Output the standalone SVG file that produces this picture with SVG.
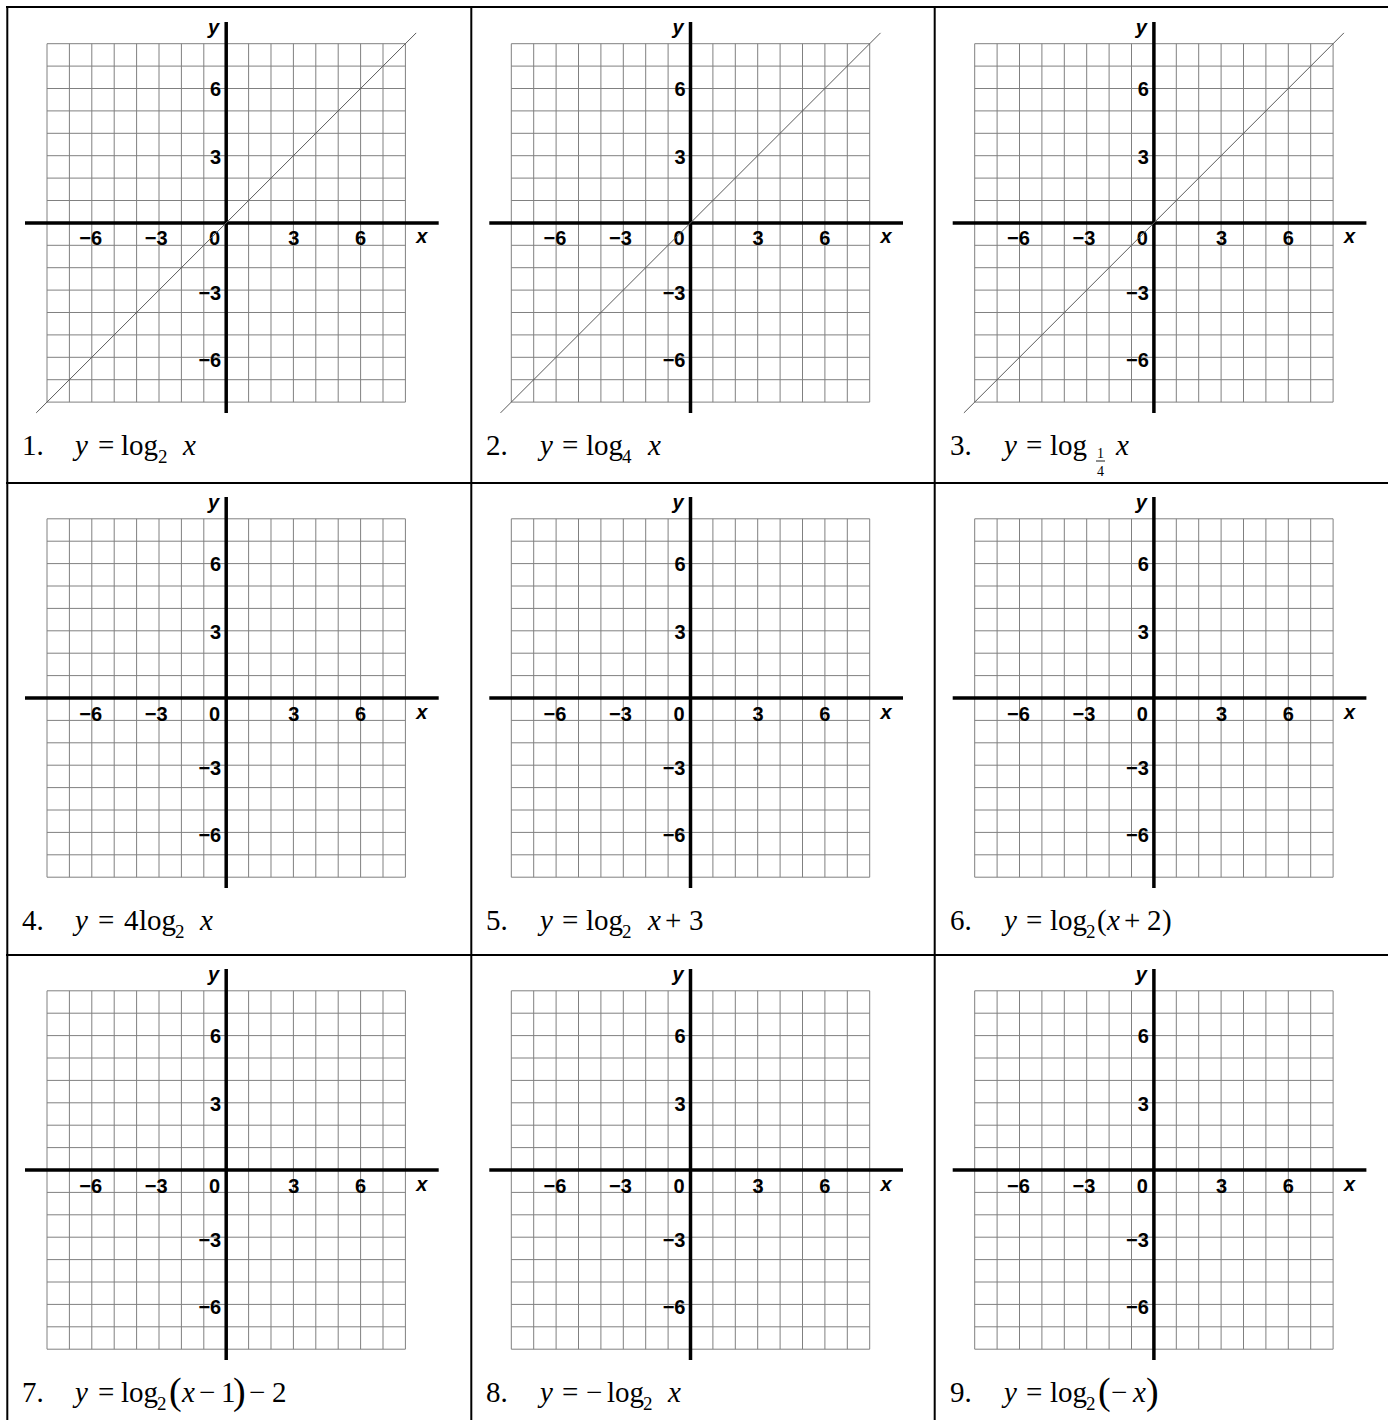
<svg xmlns="http://www.w3.org/2000/svg" xmlns:xlink="http://www.w3.org/1999/xlink" width="1388" height="1420" viewBox="0 0 1388 1420">
<style>
.grid{stroke:#808080;stroke-width:1;fill:none}
.axis{stroke:#000;stroke-width:3.5;fill:none}
.diag{stroke:#5a5a5a;stroke-width:1;fill:none}
.border{stroke:#000;stroke-width:2;fill:none}
.lab{font-family:"Liberation Sans",Arial,sans-serif;font-weight:bold;font-size:20px;fill:#000}
.ax{font-family:"Liberation Sans",Arial,sans-serif;font-weight:bold;font-style:italic;font-size:20px;fill:#000}
.f{font-family:"Liberation Serif","Times New Roman",serif;font-size:29px;fill:#000}
.i{font-style:italic}
.sub{font-size:19px}
.big{font-size:38px}
.frac{font-family:"Liberation Serif","Times New Roman",serif;font-size:14px;fill:#000;text-anchor:middle}
</style>
<defs>
<g id="plane">
<path class="grid" d="M-179.2 -179.2V179.2M-156.8 -179.2V179.2M-134.4 -179.2V179.2M-112 -179.2V179.2M-89.6 -179.2V179.2M-67.2 -179.2V179.2M-44.8 -179.2V179.2M-22.4 -179.2V179.2M0 -179.2V179.2M22.4 -179.2V179.2M44.8 -179.2V179.2M67.2 -179.2V179.2M89.6 -179.2V179.2M112 -179.2V179.2M134.4 -179.2V179.2M156.8 -179.2V179.2M179.2 -179.2V179.2M-179.2 -179.2H179.2M-179.2 -156.8H179.2M-179.2 -134.4H179.2M-179.2 -112H179.2M-179.2 -89.6H179.2M-179.2 -67.2H179.2M-179.2 -44.8H179.2M-179.2 -22.4H179.2M-179.2 0H179.2M-179.2 22.4H179.2M-179.2 44.8H179.2M-179.2 67.2H179.2M-179.2 89.6H179.2M-179.2 112H179.2M-179.2 134.4H179.2M-179.2 156.8H179.2M-179.2 179.2H179.2"/>
<line class="axis" x1="-201.2" y1="0" x2="212.5" y2="0"/>
<line class="axis" x1="0" y1="-201" x2="0" y2="190"/>
<g class="lab">
<text x="-135.5" y="22.5" text-anchor="middle">−6</text>
<text x="-70" y="22.5" text-anchor="middle">−3</text>
<text x="-6" y="22.5" text-anchor="end">0</text>
<text x="67.6" y="22.5" text-anchor="middle">3</text>
<text x="134.4" y="22.5" text-anchor="middle">6</text>
<text x="-5" y="-127" text-anchor="end">6</text>
<text x="-5" y="-58.8" text-anchor="end">3</text>
<text x="-5" y="77.3" text-anchor="end">−3</text>
<text x="-5" y="143.8" text-anchor="end">−6</text>
</g>
<text class="ax" x="190" y="20.5">x</text>
<text class="ax" x="-7" y="-189" text-anchor="end">y</text>
</g>
</defs>
<rect width="1388" height="1420" fill="#fff"/>
<g id="table">
<path class="border" d="M7.3 6V1420M471.3 6V1420M934.7 6V1420M6 7H1388M6 483H1388M6 955H1388"/>
</g>
<g id="panel1">
<g transform="translate(226.2,222.9)"><use xlink:href="#plane"/><line class="diag" x1="-190" y1="190" x2="190" y2="-190"/></g>
<text class="f" y="455"><tspan x="22">1.</tspan><tspan x="75" class="i">y</tspan><tspan x="98">=</tspan><tspan x="121">log</tspan><tspan x="158" dy="8" class="sub">2</tspan><tspan x="183" dy="-8" class="i">x</tspan></text>
</g>
<g id="panel2">
<g transform="translate(690.5,222.9)"><use xlink:href="#plane"/><line class="diag" x1="-190" y1="190" x2="190" y2="-190"/></g>
<text class="f" y="455"><tspan x="486">2.</tspan><tspan x="540" class="i">y</tspan><tspan x="562">=</tspan><tspan x="586">log</tspan><tspan x="622" dy="8" class="sub">4</tspan><tspan x="648" dy="-8" class="i">x</tspan></text>
</g>
<g id="panel3">
<g transform="translate(1153.9,222.9)"><use xlink:href="#plane"/><line class="diag" x1="-190" y1="190" x2="190" y2="-190"/></g>
<text class="f" y="455"><tspan x="950">3.</tspan><tspan x="1004" class="i">y</tspan><tspan x="1026">=</tspan><tspan x="1050">log</tspan><tspan x="1116" class="i">x</tspan></text>
<text class="frac" x="1100.5" y="458">1</text>
<line x1="1096" y1="461" x2="1105" y2="461" stroke="#000" stroke-width="0.9"/>
<text class="frac" x="1100.5" y="475.5">4</text>
</g>
<g id="panel4">
<g transform="translate(226.2,698)"><use xlink:href="#plane"/></g>
<text class="f" y="930"><tspan x="22">4.</tspan><tspan x="75" class="i">y</tspan><tspan x="98">=</tspan><tspan x="124">4</tspan><tspan x="139">log</tspan><tspan x="175" dy="8" class="sub">2</tspan><tspan x="200" dy="-8" class="i">x</tspan></text>
</g>
<g id="panel5">
<g transform="translate(690.5,698)"><use xlink:href="#plane"/></g>
<text class="f" y="930"><tspan x="486">5.</tspan><tspan x="540" class="i">y</tspan><tspan x="562">=</tspan><tspan x="586">log</tspan><tspan x="622" dy="8" class="sub">2</tspan><tspan x="648" dy="-8" class="i">x</tspan><tspan x="665">+</tspan><tspan x="689">3</tspan></text>
</g>
<g id="panel6">
<g transform="translate(1153.9,698)"><use xlink:href="#plane"/></g>
<text class="f" y="930"><tspan x="950">6.</tspan><tspan x="1004" class="i">y</tspan><tspan x="1026">=</tspan><tspan x="1050">log</tspan><tspan x="1086" dy="8" class="sub">2</tspan><tspan x="1097" dy="-8">(</tspan><tspan x="1107" class="i">x</tspan><tspan x="1124">+</tspan><tspan x="1147">2</tspan><tspan x="1162">)</tspan></text>
</g>
<g id="panel7">
<g transform="translate(226.2,1170)"><use xlink:href="#plane"/></g>
<text class="f" y="1402"><tspan x="22">7.</tspan><tspan x="75" class="i">y</tspan><tspan x="98">=</tspan><tspan x="121">log</tspan><tspan x="157" dy="8" class="sub">2</tspan><tspan x="169" dy="-6" class="big">(</tspan><tspan x="182" dy="-2" class="i">x</tspan><tspan x="199">−</tspan><tspan x="221">1</tspan><tspan x="233" dy="2" class="big">)</tspan><tspan x="249" dy="-2">−</tspan><tspan x="272">2</tspan></text>
</g>
<g id="panel8">
<g transform="translate(690.5,1170)"><use xlink:href="#plane"/></g>
<text class="f" y="1402"><tspan x="486">8.</tspan><tspan x="540" class="i">y</tspan><tspan x="562">=</tspan><tspan x="586">−</tspan><tspan x="607">log</tspan><tspan x="643" dy="8" class="sub">2</tspan><tspan x="668" dy="-8" class="i">x</tspan></text>
</g>
<g id="panel9">
<g transform="translate(1153.9,1170)"><use xlink:href="#plane"/></g>
<text class="f" y="1402"><tspan x="950">9.</tspan><tspan x="1004" class="i">y</tspan><tspan x="1026">=</tspan><tspan x="1050">log</tspan><tspan x="1086" dy="8" class="sub">2</tspan><tspan x="1098" dy="-6" class="big">(</tspan><tspan x="1111" dy="-2">−</tspan><tspan x="1133" class="i">x</tspan><tspan x="1146" dy="2" class="big">)</tspan></text>
</g>
</svg>
